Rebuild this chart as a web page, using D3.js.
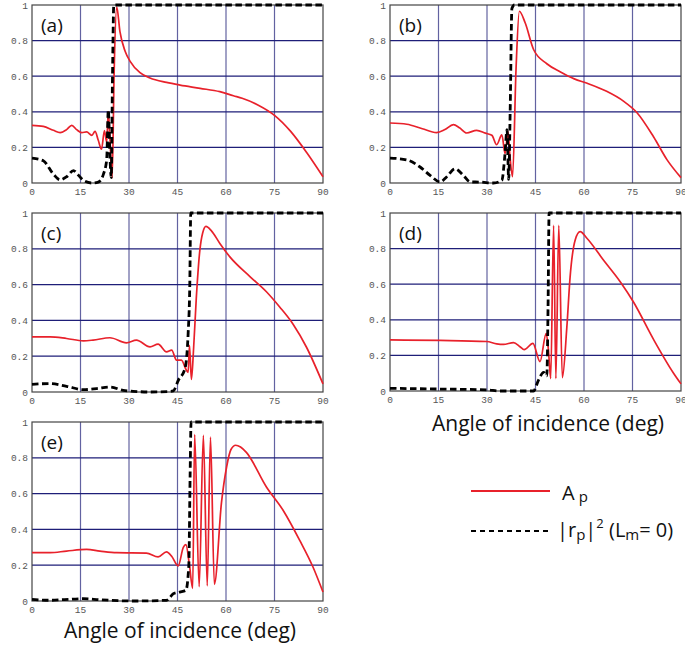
<!DOCTYPE html>
<html>
<head>
<meta charset="utf-8">
<script src="https://cdn.jsdelivr.net/npm/d3@7"></script>
<style>
body { margin: 0; background: #fff; }
svg { display: block; }
.tick-lbl { font-family: "Liberation Mono", "DejaVu Sans Mono", monospace; font-size: 9.5px; fill: #555; }
.big { font-family: "Open Sans", "Noto Sans", sans-serif; fill: #111; }
</style>
</head>
<body>
<svg width="685" height="649"></svg>
<script>
// angle ticks and y ticks
var xTicks = [0, 15, 30, 45, 60, 75, 90]
var yTicks = [0, 0.2, 0.4, 0.6, 0.8, 1]
var yTickText = ["0", "0.2", "0.4", "0.6", "0.8", "1"]

// (a)
var aApDeg = [0, 3.5, 6.6, 8.7, 10.7, 12.3, 13.8, 15.4, 16.9, 18.5, 19.5, 20.5, 21.5, 22.4, 23.1, 23.6, 24.1, 24.8, 25.4, 26.2, 27.2, 28.8, 30.3, 33.4, 36.5, 41.6, 45.8, 52, 58.1, 62.3, 65, 70, 75, 80, 85, 90]
var aAp = [0.324, 0.318, 0.296, 0.283, 0.30, 0.324, 0.30, 0.283, 0.287, 0.268, 0.29, 0.24, 0.19, 0.295, 0.23, 0.40, 0.25, 0.03, 0.62, 0.99, 0.85, 0.74, 0.685, 0.62, 0.59, 0.565, 0.55, 0.532, 0.513, 0.49, 0.476, 0.437, 0.38, 0.29, 0.17, 0.035]
var aRpDeg = [0, 3.5, 6.6, 8.7, 10.7, 12.8, 14.3, 15.9, 18.5, 20.5, 22.1, 23.1, 23.6, 24.1, 24.5, 24.9, 25.3, 90]
var aRp = [0.14, 0.125, 0.05, 0.018, 0.035, 0.07, 0.045, 0.015, 0.0, 0.005, 0.05, 0.13, 0.41, 0.15, 0.03, 0.6, 1.0, 1.0]

// (b)
var bApDeg = [0, 5.2, 10, 14.4, 17, 19.6, 21.5, 23.7, 26.8, 29.5, 31.5, 33, 34.6, 35.6, 36.5, 37.1, 37.9, 39, 40, 41.8, 44.4, 48.5, 52.6, 57, 61, 67, 72.2, 76.4, 81.5, 85.7, 90]
var bAp = [0.337, 0.33, 0.305, 0.283, 0.3, 0.328, 0.31, 0.281, 0.296, 0.28, 0.268, 0.215, 0.27, 0.165, 0.29, 0.15, 0.035, 0.65, 0.965, 0.9, 0.75, 0.67, 0.625, 0.585, 0.56, 0.515, 0.46, 0.395, 0.26, 0.13, 0.03]
var bRpDeg = [0, 5.2, 9.3, 12.4, 15.5, 17.5, 20.1, 22.7, 24.8, 27.9, 32, 34.6, 35.5, 36.2, 36.7, 37.2, 37.7, 38.5, 90]
var bRp = [0.14, 0.13, 0.09, 0.043, 0.006, 0.034, 0.08, 0.043, 0.006, 0.005, 0.0, 0.015, 0.15, 0.3, 0.02, 0.44, 0.98, 1.0, 1.0]

// (c)
var cApDeg = [0, 5.6, 10.7, 15.9, 18.9, 24.1, 29.2, 32.3, 36.5, 39, 41.6, 43.2, 44.7, 46.2, 47.8, 48.3, 48.7, 49.3, 50, 50.8, 51.9, 52.8, 53.8, 55.5, 58.1, 61.2, 67.4, 72.5, 76.6, 80.7, 84.9, 90]
var cAp = [0.308, 0.308, 0.299, 0.286, 0.29, 0.303, 0.275, 0.29, 0.252, 0.267, 0.224, 0.234, 0.178, 0.178, 0.12, 0.11, 0.26, 0.07, 0.25, 0.52, 0.79, 0.89, 0.925, 0.9, 0.83, 0.755, 0.645, 0.56, 0.475, 0.38, 0.25, 0.045]
var cRpDeg = [0, 5.6, 10.7, 15.9, 20, 24.1, 28.2, 31.3, 36.5, 42.7, 43.7, 45.3, 47.3, 48.3, 48.8, 49.1, 90]
var cRp = [0.043, 0.047, 0.032, 0.013, 0.019, 0.028, 0.009, 0.004, 0.0, 0.003, 0.006, 0.067, 0.13, 0.33, 0.6, 1.0, 1.0]

// (d)
var dApDeg = [0, 15.5, 29.9, 33, 35.1, 38.2, 40.2, 41.5, 44.2, 46.4, 48.3, 49.0, 49.7, 50.6, 51.3, 52.2, 53.3, 54.7, 55.7, 57.3, 58.8, 60.9, 66, 71.2, 75.3, 81.5, 87.7, 90]
var dAp = [0.287, 0.284, 0.278, 0.265, 0.262, 0.272, 0.249, 0.232, 0.268, 0.165, 0.324, 0.23, 0.07, 0.93, 0.07, 0.93, 0.075, 0.36, 0.64, 0.85, 0.895, 0.858, 0.736, 0.614, 0.5, 0.29, 0.1, 0.04]
var dRpDeg = [0, 15.5, 30, 34, 44.4, 45.9, 47.5, 48.5, 48.9, 49.2, 90]
var dRp = [0.015, 0.011, 0.006, 0.0, 0.0, 0.06, 0.105, 0.085, 0.5, 1.0, 1.0]

// (e)
var eApDeg = [0, 5.6, 10.7, 16.9, 21, 26.2, 35.4, 39, 41.6, 43.2, 45.2, 46.8, 47.6, 48.7, 49.7, 50.3, 51.7, 53.0, 54.2, 55.2, 56.4, 58.6, 60.2, 61.5, 63, 64.5, 66.3, 72.5, 77.7, 82.8, 86.9, 90]
var eAp = [0.27, 0.27, 0.279, 0.288, 0.279, 0.27, 0.268, 0.246, 0.275, 0.25, 0.196, 0.30, 0.315, 0.2, 0.07, 0.93, 0.08, 0.925, 0.085, 0.915, 0.093, 0.55, 0.75, 0.845, 0.87, 0.86, 0.83, 0.637, 0.506, 0.339, 0.19, 0.05]
var eRpDeg = [0, 5.6, 10, 15.9, 21, 31.3, 41.6, 43.7, 45.7, 47.6, 48.5, 48.9, 49.2, 90]
var eRp = [0.009, 0.004, 0.008, 0.013, 0.007, 0.0, 0.004, 0.04, 0.05, 0.06, 0.2, 0.7, 1.0, 1.0]

var panels = [
	{name: "(a)", left: 32, top: 5, w: 291, h: 178, apX: aApDeg, ap: aAp, rpX: aRpDeg, rp: aRp},
	{name: "(b)", left: 390, top: 5, w: 291, h: 178, apX: bApDeg, ap: bAp, rpX: bRpDeg, rp: bRp},
	{name: "(c)", left: 32, top: 213, w: 291, h: 179, apX: cApDeg, ap: cAp, rpX: cRpDeg, rp: cRp},
	{name: "(d)", left: 390, top: 213, w: 291, h: 178, apX: dApDeg, ap: dAp, rpX: dRpDeg, rp: dRp},
	{name: "(e)", left: 32, top: 422, w: 291, h: 179, apX: eApDeg, ap: eAp, rpX: eRpDeg, rp: eRp}
]

var svg = d3.select("svg")

panels.forEach(function(p) {
	var g = svg.append("g").attr("transform", "translate(" + p.left + "," + p.top + ")")
	var x = d3.scaleLinear().domain([0, 90]).range([0, p.w])
	var y = d3.scaleLinear().domain([0, 1]).range([p.h, 0])

	// grid
	g.selectAll(".vg").data(xTicks.slice(1, -1)).enter().append("line")
		.attr("x1", function(d) { return x(d) }).attr("x2", function(d) { return x(d) })
		.attr("y1", 0).attr("y2", p.h)
		.attr("stroke", "#3c3c8a").attr("stroke-width", 1.2).attr("opacity", 0.8)
	g.selectAll(".hg").data(yTicks.slice(1, -1)).enter().append("line")
		.attr("y1", function(d) { return y(d) }).attr("y2", function(d) { return y(d) })
		.attr("x1", 0).attr("x2", p.w)
		.attr("stroke", "#1e1e78").attr("stroke-width", 1.2)

	g.append("rect").attr("width", p.w).attr("height", p.h)
		.attr("fill", "none").attr("stroke", "#444").attr("stroke-width", 1.2)

	// tick labels
	g.selectAll(".xt").data(xTicks).enter().append("text")
		.attr("class", "tick-lbl")
		.attr("x", function(d) { return x(d) }).attr("y", p.h + 12)
		.attr("text-anchor", "middle").text(function(d) { return d })
	g.selectAll(".yt").data(yTicks).enter().append("text")
		.attr("class", "tick-lbl")
		.attr("x", -4).attr("y", function(d) { return y(d) + 3.5 })
		.attr("text-anchor", "end").text(function(d, i) { return yTickText[i] })

	var line = d3.line()
		.x(function(d) { return x(d[0]) })
		.y(function(d) { return y(d[1]) })
		.curve(d3.curveMonotoneX)

	g.append("path")
		.attr("d", line(d3.zip(p.apX, p.ap)))
		.attr("fill", "none").attr("stroke", "#e8212b").attr("stroke-width", 1.7)
	g.append("path")
		.attr("d", line(d3.zip(p.rpX, p.rp)))
		.attr("fill", "none").attr("stroke", "#000").attr("stroke-width", 2.8)
		.attr("stroke-dasharray", "6.5,3.5")

	g.append("text").attr("class", "big")
		.attr("x", 9).attr("y", 27)
		.style("font-size", "19px")
		.text(p.name)
})

// axis titles
svg.append("text").attr("class", "big")
	.attr("x", 548).attr("y", 431).attr("text-anchor", "middle")
	.style("font-size", "21px").text("Angle of incidence (deg)")
svg.append("text").attr("class", "big")
	.attr("x", 180).attr("y", 638).attr("text-anchor", "middle")
	.style("font-size", "21px").text("Angle of incidence (deg)")

// legend
svg.append("line").attr("x1", 471).attr("x2", 550).attr("y1", 491).attr("y2", 491)
	.attr("stroke", "#e8212b").attr("stroke-width", 2)
svg.append("line").attr("x1", 471).attr("x2", 551).attr("y1", 531).attr("y2", 531)
	.attr("stroke", "#000").attr("stroke-width", 2).attr("stroke-dasharray", "5,4")

var t1 = svg.append("text").attr("class", "big").attr("x", 562).attr("y", 500).style("font-size", "20px")
t1.append("tspan").text("A")
t1.append("tspan").attr("dx", 4).attr("dy", 1.5).style("font-size", "15px").text("p")

var t2 = svg.append("text").attr("class", "big").attr("x", 557).attr("y", 537).style("font-size", "20px")
t2.append("tspan").text("|r")
t2.append("tspan").attr("dy", 3).style("font-size", "15px").text("p")
t2.append("tspan").attr("dy", -3).text("|")
t2.append("tspan").attr("dy", -9).style("font-size", "13px").text("2")
t2.append("tspan").attr("dy", 9).text(" (L")
t2.append("tspan").attr("dy", 3).style("font-size", "15px").text("m")
t2.append("tspan").attr("dy", -3).text("= 0)")
</script>
</body>
</html>
